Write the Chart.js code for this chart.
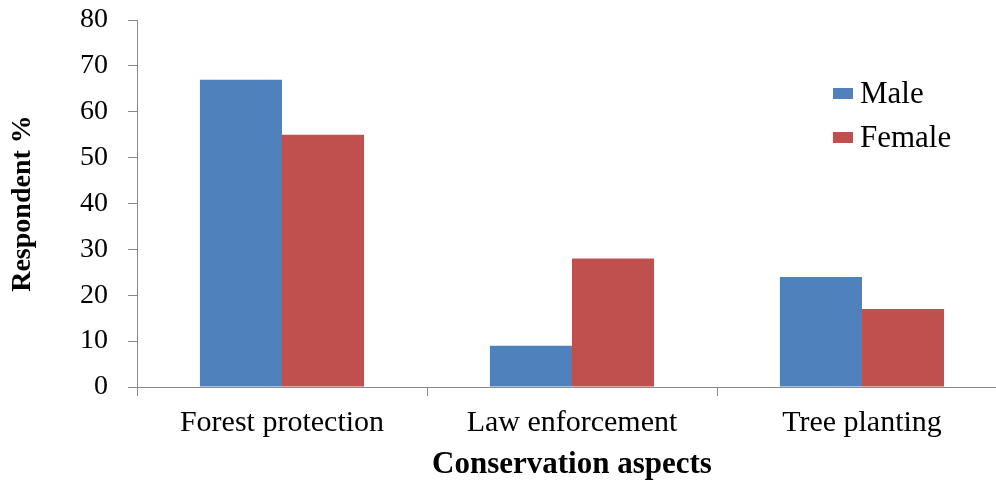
<!DOCTYPE html>
<html>
<head>
<meta charset="utf-8">
<script src="https://cdn.jsdelivr.net/npm/chart.js@4.4.1/dist/chart.umd.min.js"></script>
<style>
  html, body { margin: 0; padding: 0; background: #fff; overflow: hidden; }
  #wrap { position: relative; width: 996px; height: 485px; overflow: hidden; }
  #chart { position: absolute; left: 0; top: 0; }
  .legend { position: absolute; left: 833px; top: 71px; font-family: 'Liberation Serif', serif; font-size: 31px; color: #000; }
  .legend-item { display: flex; align-items: center; height: 44px; }
  .legend-box { width: 20px; height: 11px; margin-right: 7px; }
</style>
</head>
<body>
<div id="wrap">
  <canvas id="chart" width="1010" height="485"></canvas>
  <div class="legend" id="legend"></div>
</div>
<script>
'use strict';

const categories = ['Forest protection', 'Law enforcement', 'Tree planting'];
const seriesNames = ['Male', 'Female'];
const maleValues = [67, 9, 24];
const femaleValues = [55, 28, 17];
const seriesColors = ['#4F81BD', '#C0504D'];
const yTicks = [0, 10, 20, 30, 40, 50, 60, 70, 80];

const axisGray = '#898989';
const serif = "'Liberation Serif', 'Times New Roman', serif";

// 범례 (HTML)
document.getElementById('legend').innerHTML = seriesNames.map((name, i) => `
  <div class="legend-item">
    <div class="legend-box" style="background:${seriesColors[i]};"></div>${name}
  </div>
`).join('');

new Chart(document.getElementById('chart'), {
  type: 'bar',
  data: {
    labels: categories,
    datasets: [
      { label: seriesNames[0], data: maleValues, backgroundColor: seriesColors[0] },
      { label: seriesNames[1], data: femaleValues, backgroundColor: seriesColors[1] },
    ],
  },
  options: {
    responsive: false,
    devicePixelRatio: 1,
    animation: false,
    layout: { padding: { top: 20, right: 3, left: 0, bottom: 0 } },
    datasets: { bar: { categoryPercentage: 0.566, barPercentage: 1.0 } },
    plugins: { legend: { display: false }, tooltip: { enabled: false } },
    scales: {
      x: {
        grid: { display: true, drawOnChartArea: false, offset: true, tickLength: 9, color: axisGray },
        border: { color: axisGray, width: 1 },
        ticks: { color: '#000', padding: 9, font: { family: serif, size: 30 } },
        title: {
          display: true,
          text: 'Conservation aspects',
          color: '#000',
          font: { family: serif, size: 31, weight: 'bold' },
          padding: { top: 0, bottom: 1 },
        },
        afterFit: (s) => { s.height = 98; s.paddingLeft = 0; s.paddingRight = 0; },
      },
      y: {
        min: 0,
        max: 80,
        afterBuildTicks: (s) => { s.ticks = yTicks.map(v => ({ value: v })); },
        grid: { display: true, drawOnChartArea: false, tickLength: 9, color: axisGray },
        border: { color: axisGray, width: 1 },
        ticks: { color: '#000', padding: 20, font: { family: serif, size: 28 } },
        title: {
          display: true,
          text: 'Respondent %',
          color: '#000',
          font: { family: serif, size: 28, weight: 'bold' },
          padding: { top: 6, bottom: 0 },
        },
        afterFit: (s) => { s.width = 137; s.paddingTop = 0; s.paddingBottom = 0; },
      },
    },
  },
});
</script>
</body>
</html>
